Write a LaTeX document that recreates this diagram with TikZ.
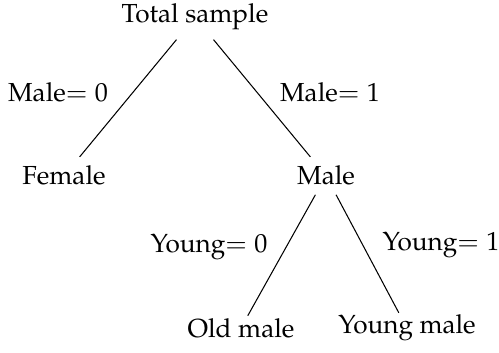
\documentclass[tikz,border=0pt]{standalone}
\usepackage[T1]{fontenc}
\usepackage{mathpazo}
\begin{document}
\begin{tikzpicture}[x=0.383pt,y=-0.383pt,
  item/.style={anchor=base},
  branch/.style={anchor=base},
  edge/.style={line width=0.4pt},
  leafedge/.style={edge,shorten >=-3pt}]
\useasboundingbox (0,0) rectangle (499,353);
% tree nodes, placed by their baselines
\node[item] (root) at (195,23) {Total sample};
\node[item] (female) at (64,185) {Female};
\node[item] (male) at (326,185) {Male};
\node[item] (old) at (241,337) {Old male};
\node[item] (young) at (407,334) {Young male};
% branch labels
\node[branch] (l1) at (58,102) {Male$=0$};
\node[branch] (l2) at (330,102) {Male$=1$};
\node[branch] (l3) at (209,252) {Young$=0$};
\node[branch] (l4) at (441,251) {Young$=1$};
% branches
\draw[edge] (root) -- (female);
\draw[edge] (root) -- (male);
\draw[leafedge] (male) -- (old);
\draw[leafedge] (male) -- (young);
\end{tikzpicture}
\end{document}
